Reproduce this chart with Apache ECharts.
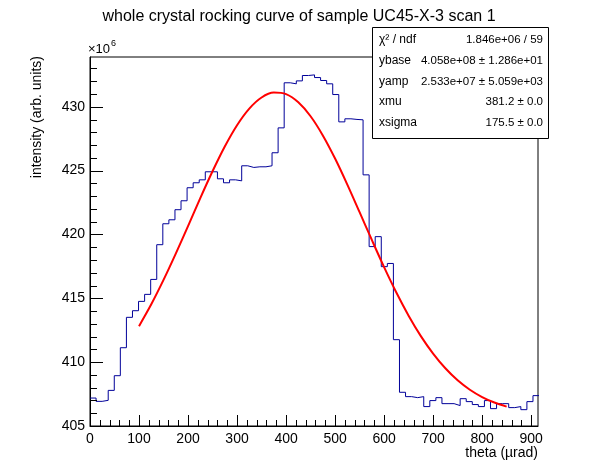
<!DOCTYPE html>
<html>
<head>
<meta charset="utf-8">
<script src="https://cdn.jsdelivr.net/npm/echarts@6/dist/echarts.min.js"></script>
<style>
  html, body { margin: 0; padding: 0; background: #fff; }
  #chart { width: 598px; height: 474px; }
</style>
</head>
<body>
<div id="chart"></div>
<script>
// histogram: bin contents in units of 1e6, bins start at 0 with a fixed width
const binWidth = 12.38;
const counts = [
  407.19, 406.93, 407.01, 407.79, 408.94, 411.13, 413.51, 414.03, 414.76, 415.31,
  416.48, 419.20, 420.84, 421.15, 421.94, 422.64, 423.66, 424.05, 424.28, 424.91,
  424.91, 424.36, 424.05, 424.28, 424.20, 425.38, 425.25, 425.30, 425.30, 425.38,
  426.40, 428.35, 431.88, 431.80, 432.03, 432.45, 432.50, 432.29, 432.06, 431.80,
  430.96, 428.82, 429.06, 429.01, 428.98, 424.67, 419.05, 419.83, 417.48, 417.73,
  411.76, 407.64, 407.30, 407.22, 407.30, 406.52, 406.99, 407.22, 406.75, 406.75,
  406.60, 407.14, 406.91, 406.68, 406.52, 406.99, 406.36, 406.75, 406.75, 406.44,
  406.52, 406.28, 406.91, 407.38
];

// fitted curve
const fitX = [100, 125, 150, 175, 200, 225, 250, 275, 300, 325, 350, 375, 400, 425, 450, 475,
  500, 525, 550, 575, 600, 625, 650, 675, 700, 725, 750, 775, 800, 825, 850];
const fitY = [412.82, 414.53, 416.44, 418.50, 420.66, 422.85, 424.95, 426.89, 428.56, 429.86,
  430.73, 431.11, 430.99, 430.35, 429.26, 427.76, 425.95, 423.91, 421.75, 419.57, 417.44,
  415.45, 413.64, 412.04, 410.67, 409.52, 408.58, 407.84, 407.27, 406.84, 406.52];

// axis range and tick marks (ROOT style: major + minor, pointing inwards)
const xMin = 0, xMax = 914;
const yMin = 405, yMax = 433.9;
const xMajor = [0, 100, 200, 300, 400, 500, 600, 700, 800, 900];
const xMinor = [20, 40, 60, 80, 120, 140, 160, 180, 220, 240, 260, 280, 320, 340, 360, 380,
  420, 440, 460, 480, 520, 540, 560, 580, 620, 640, 660, 680, 720, 740, 760, 780,
  820, 840, 860, 880];
const yMajor = [405, 410, 415, 420, 425, 430];
const yMinor = [406, 407, 408, 409, 411, 412, 413, 414, 416, 417, 418, 419,
  421, 422, 423, 424, 426, 427, 428, 429, 431, 432, 433];

const statNames = ['χ² / ndf', 'ybase', 'yamp', 'xmu', 'xsigma'];
const statValues = ['1.846e+06 / 59', '4.058e+08 ± 1.286e+01', '2.533e+07 ± 5.059e+03',
  '381.2 ± 0.0', '175.5 ± 0.0'];

const FONT = 'Liberation Sans';

const histData = counts.map((v, i) => [i * binWidth, v]);
histData.push([counts.length * binWidth, counts[counts.length - 1]]);
const fitData = fitX.map((x, i) => [x, fitY[i]]);

const chart = echarts.init(document.getElementById('chart'), null, { renderer: 'canvas' });

function txt(text, x, y, size, align, vAlign, extra) {
  return Object.assign({
    type: 'text', x: x, y: y, silent: true, z: 100,
    style: {
      text: text, fontSize: size, fontFamily: FONT, fill: '#000',
      textAlign: align, textVerticalAlign: vAlign, align: align, verticalAlign: vAlign
    }
  }, extra || {});
}

const graphics = [
  txt('whole crystal rocking curve of sample UC45-X-3 scan 1', 299, 17, 16, 'center', 'middle'),
  txt('intensity (arb. units)', 37, 56, 14, 'right', 'middle', { rotation: Math.PI / 2 }),
  txt('theta (µrad)', 538, 453, 14, 'right', 'middle'),
  txt('×10', 88, 55.5, 13, 'left', 'bottom'),
  txt('6', 111, 48, 9, 'left', 'bottom'),
  {
    type: 'rect', z: 90, silent: true,
    shape: { x: 372.5, y: 27.5, width: 176, height: 111 },
    style: { fill: '#fff', stroke: '#000', lineWidth: 1 }
  }
];
const rowY = [40, 61, 82, 102, 123];
statNames.forEach((n, i) => {
  graphics.push(txt(n, 379, rowY[i], 12, 'left', 'middle'));
  graphics.push(txt(statValues[i], 543, rowY[i], 11.5, 'right', 'middle'));
});

chart.setOption({
  animation: false,
  grid: { left: 90, right: 60, top: 57, bottom: 48, show: true, borderColor: '#000' },
  xAxis: {
    type: 'value', min: xMin, max: xMax, interval: 100,
    splitLine: { show: false },
    axisLine: { show: true, onZero: false, lineStyle: { color: '#000' } },
    axisTick: { show: false },
    axisLabel: {
      color: '#000', fontSize: 14, fontFamily: FONT, margin: 6,
      formatter: v => (v % 100 === 0 ? String(v) : '')
    }
  },
  yAxis: {
    type: 'value', min: yMin, max: yMax, interval: 5,
    splitLine: { show: false },
    axisLine: { show: true, onZero: false, lineStyle: { color: '#000' } },
    axisTick: { show: false },
    axisLabel: {
      color: '#000', fontSize: 14, fontFamily: FONT, margin: 5,
      formatter: v => (v % 5 === 0 ? String(v) : '')
    }
  },
  series: [
    {
      type: 'line', name: 'hist', data: histData, step: 'end',
      showSymbol: false, symbol: 'none',
      lineStyle: { color: '#000099', width: 1 }, clip: true, z: 3
    },
    {
      type: 'line', name: 'fit', data: fitData, smooth: 0.3,
      showSymbol: false, symbol: 'none',
      lineStyle: { color: '#ff0000', width: 2 }, clip: true, z: 4
    }
  ]
});

// inward ticks placed through the chart's own scales
function tickLine(x1, y1, x2, y2) {
  return {
    type: 'line', silent: true, z: 50,
    shape: { x1: x1, y1: y1, x2: x2, y2: y2 },
    style: { stroke: '#000', lineWidth: 1 }
  };
}
function addXTicks(list, len) {
  list.forEach(v => {
    const p = chart.convertToPixel({ gridIndex: 0 }, [v, yMin]);
    const x = Math.round(p[0]) + 0.5;
    graphics.push(tickLine(x, p[1], x, p[1] - len));
  });
}
function addYTicks(list, len) {
  list.forEach(v => {
    const p = chart.convertToPixel({ gridIndex: 0 }, [xMin, v]);
    const y = Math.round(p[1]) + 0.5;
    graphics.push(tickLine(p[0], y, p[0] + len, y));
  });
}
addXTicks(xMajor, 11);
addXTicks(xMinor, 6);
addYTicks(yMajor, 13);
addYTicks(yMinor, 7);

chart.setOption({ graphic: graphics });
</script>
</body>
</html>
